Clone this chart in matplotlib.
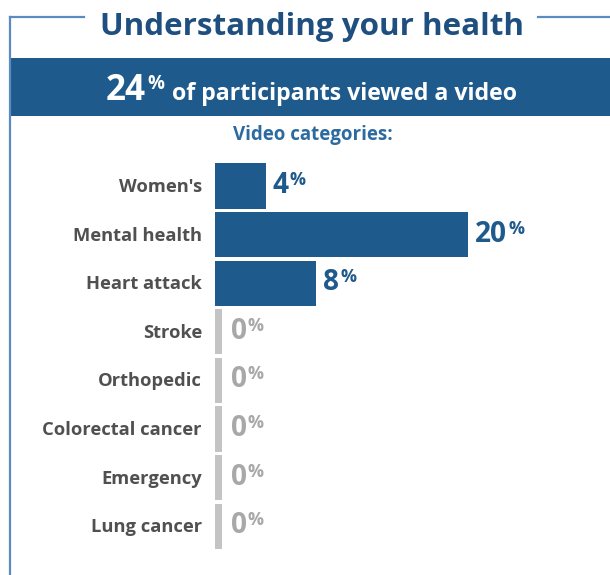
import matplotlib
matplotlib.use("Agg")
import matplotlib.pyplot as plt
from matplotlib.patches import Rectangle
from matplotlib.lines import Line2D

categories = ["Women's", "Mental health", "Heart attack", "Stroke", "Orthopedic",
              "Colorectal cancer", "Emergency", "Lung cancer"]
values = [4, 20, 8, 0, 0, 0, 0, 0]
headline_value = 24
title = "Understanding your health"
headline_text = "of participants viewed a video"
subtitle = "Video categories:"

W, H = 610, 575
BLUE = "#1f5a8c"
DARK = "#1f4f7f"
FRAME = "#5b8bc0"
GREY_BAR = "#c4c4c4"
GREY_TXT = "#a8a8a8"
LABEL = "#505050"
FONT = "Open Sans"

fig = plt.figure(figsize=(W / 100, H / 100), dpi=100)
fig.patch.set_facecolor("white")
fig.canvas.draw()
renderer = fig.canvas.get_renderer()


def fx(x):
    return x / W


def fy(y):
    return 1 - y / H


def fit(t, target_w):
    """Scale a text's font size so its rendered width matches target_w pixels."""
    for _ in range(2):
        w = t.get_window_extent(renderer).width
        t.set_fontsize(t.get_fontsize() * target_w / w)
    return t


# frame
fig.add_artist(Line2D([fx(10), fx(10)], [fy(17), fy(575)], color=FRAME, lw=1.6))
fig.add_artist(Line2D([fx(10), fx(84)], [fy(17), fy(17)], color=FRAME, lw=1.6))
fig.add_artist(Line2D([fx(538), fx(610)], [fy(17), fy(17)], color=FRAME, lw=1.6))

# title
t = fig.text(fx(312), fy(35), title, ha="center", va="baseline", fontsize=20,
             fontweight="bold", color=DARK, family=FONT)
fit(t, 424)

# banner
fig.add_artist(Rectangle((fx(10), fy(116)), fx(600), 58 / H, color=BLUE, lw=0))
t = fig.text(fx(106), fy(100), f"{headline_value}", ha="left", va="baseline",
             fontsize=22, fontweight="bold", color="white", family=FONT)
fit(t, 40)
t = fig.text(fx(147), fy(89), "%", ha="left", va="baseline", fontsize=10,
             fontweight="bold", color="white", family=FONT)
fit(t, 17)
t = fig.text(fx(172), fy(100), headline_text, ha="left", va="baseline", fontsize=15,
             fontweight="bold", color="white", family=FONT)
fit(t, 346)

t = fig.text(fx(313), fy(140), subtitle, ha="center", va="baseline", fontsize=10,
             fontweight="bold", color="#2c6aa0", family=FONT)
fit(t, 160)

# bar axes
px_per_pct = 12.65
xmax = 30
row = 48.6
top = 186 - row / 2
n = len(categories)
ax = fig.add_axes([fx(215), fy(top + row * n), xmax * px_per_pct / W, row * n / H])
ax.set_xlim(0, xmax)
ax.set_ylim(n - 0.5, -0.5)
ax.axis("off")

ys = list(range(n))
pos_y = [y for y, v in zip(ys, values) if v > 0]
pos_v = [v for v in values if v > 0]
ax.barh(pos_y, pos_v, height=0.93, color=BLUE, edgecolor="none")
zero_y = [y for y, v in zip(ys, values) if v == 0]
stub = 7 / px_per_pct
ax.barh(zero_y, [stub] * len(zero_y), height=0.93, color=GREY_BAR, edgecolor="none")

# font sizes fitted on reference widths
probe = ax.text(0, 0, "Colorectal cancer", fontsize=10, fontweight="bold", family=FONT)
fit(probe, 159)
label_fs = probe.get_fontsize()
probe.remove()
probe = ax.text(0, 0, "20", fontsize=15, fontweight="bold", family=FONT)
fit(probe, 32)
val_fs = probe.get_fontsize()
probe.remove()
probe = ax.text(0, 0, "%", fontsize=9, fontweight="bold", family=FONT)
fit(probe, 16)
pct_fs = probe.get_fontsize()
probe.remove()

dy = 1 / row  # one pixel in row units
for y, v, c in zip(ys, values, categories):
    ax.text(-13 / px_per_pct, y + 6 * dy, c, ha="right", va="baseline",
            fontsize=label_fs, fontweight="bold", color=LABEL, family=FONT)
    if v > 0:
        xt = v + 7 / px_per_pct
        col = BLUE
    else:
        xt = stub + 9 / px_per_pct
        col = GREY_TXT
    t = ax.text(xt, y + 7 * dy, f"{v}", ha="left", va="baseline", fontsize=val_fs,
                fontweight="bold", color=col, family=FONT)
    b = t.get_window_extent(renderer)
    xd = ax.transData.inverted().transform((b.x1, b.y1))[0]
    ax.text(xd + 1 / px_per_pct, y - 1 * dy, "%", ha="left", va="baseline",
            fontsize=pct_fs, fontweight="bold", color=col, family=FONT)

fig.savefig("out.png", dpi=100)
